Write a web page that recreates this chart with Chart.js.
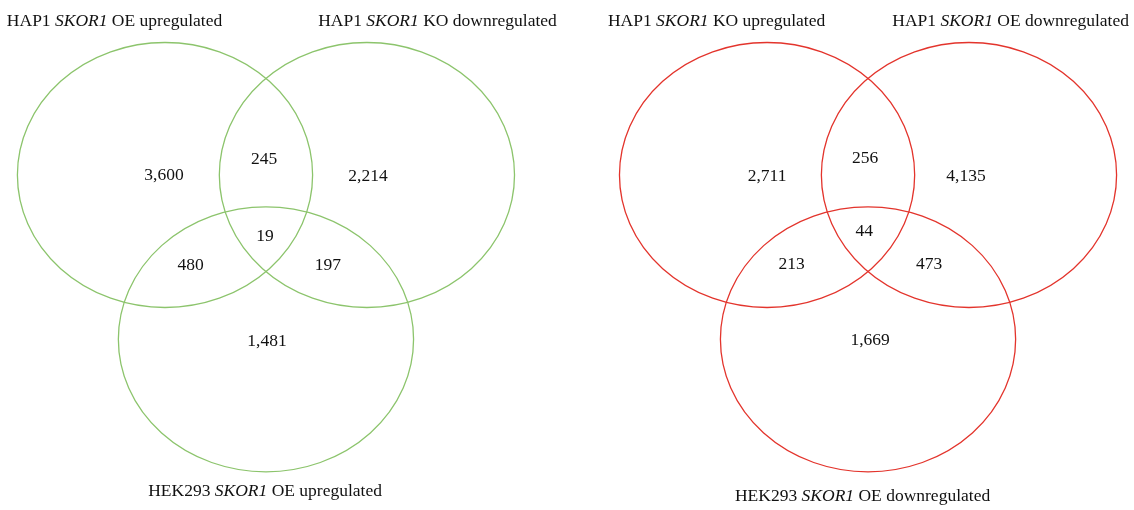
<!DOCTYPE html>
<html>
<head>
<meta charset="utf-8">
<script src="https://cdn.jsdelivr.net/npm/chart.js@4"></script>
<style>
  html, body { margin: 0; padding: 0; background: #fff; }
  #wrap { width: 1134px; height: 510px; position: relative; }
</style>
</head>
<body>
<div id="wrap"><canvas id="venn"></canvas></div>
<script>
const fontFamily = "'Liberation Serif', 'Times New Roman', serif";
const gene = 'SKOR1';

// set names: [before gene, after gene]
const leftSets = [['HAP1 ', ' OE upregulated'], ['HAP1 ', ' KO downregulated'], ['HEK293 ', ' OE upregulated']];
const rightSets = [['HAP1 ', ' KO upregulated'], ['HAP1 ', ' OE downregulated'], ['HEK293 ', ' OE downregulated']];

// region order: A only, A∩B, B only, A∩B∩C, A∩C, B∩C, C only
const leftCounts = [3600, 245, 2214, 19, 480, 197, 1481];
const rightCounts = [2711, 256, 4135, 44, 213, 473, 1669];

const colors = { left: '#8cc46c', right: '#e3342c' };

// layout in circle-radius units (A centre = 0,0)
const circleX = [0, 1.368, 0.684];
const circleY = [0, 0, -1.24];
const diagramOffset = [0, 4.079];

const leftRegionX = [-0.007, 0.671, 1.375, 0.678, 0.174, 1.104, 0.691];
const leftRegionY = [0, 0.121, -0.008, -0.466, -0.679, -0.679, -1.253];
const rightRegionX = [0, 0.664, 1.348, 0.659, 0.167, 1.098, 0.698];
const rightRegionY = [-0.01, 0.122, -0.01, -0.424, -0.675, -0.675, -1.249];

const leftTitleX = [-0.342, 1.846, 0.678];
const leftTitleY = [1.158, 1.158, -2.39];
const rightTitleX = [-0.342, 1.65, 0.647];
const rightTitleY = [1.158, 1.158, -2.428];

function regionPoints(xs, ys, off) {
  return xs.map((x, i) => ({ x: x + off, y: ys[i] }));
}

const diagrams = [
  { sets: leftSets, counts: leftCounts, color: colors.left, off: diagramOffset[0], tx: leftTitleX, ty: leftTitleY },
  { sets: rightSets, counts: rightCounts, color: colors.right, off: diagramOffset[1], tx: rightTitleX, ty: rightTitleY },
];

const vennPlugin = {
  id: 'venn',
  afterDatasetsDraw(chart) {
    const { ctx, scales: { x, y } } = chart;
    ctx.save();
    diagrams.forEach((d, di) => {
      // circles
      ctx.strokeStyle = d.color;
      ctx.lineWidth = 1.3;
      circleX.forEach((cx, i) => {
        const px = x.getPixelForValue(cx + d.off);
        const py = y.getPixelForValue(circleY[i]);
        const rx = x.getPixelForValue(cx + d.off + 1) - px;
        const ry = py - y.getPixelForValue(circleY[i] + 1);
        ctx.beginPath();
        ctx.ellipse(px, py, rx, ry, 0, 0, Math.PI * 2);
        ctx.stroke();
      });

      // counts
      ctx.fillStyle = '#111';
      ctx.font = '17.5px ' + fontFamily;
      ctx.textAlign = 'center';
      ctx.textBaseline = 'middle';
      chart.getDatasetMeta(di).data.forEach((pt, i) => {
        ctx.fillText(d.counts[i].toLocaleString('en-US'), pt.x, pt.y);
      });

      // set names with italic gene symbol
      ctx.textAlign = 'left';
      d.sets.forEach((parts, i) => {
        const reg = '17.5px ' + fontFamily;
        const ita = 'italic 17.5px ' + fontFamily;
        ctx.font = reg;
        const w1 = ctx.measureText(parts[0]).width;
        const w3 = ctx.measureText(parts[1]).width;
        ctx.font = ita;
        const w2 = ctx.measureText(gene).width;
        let sx = x.getPixelForValue(d.tx[i] + d.off) - (w1 + w2 + w3) / 2;
        const sy = y.getPixelForValue(d.ty[i]);
        ctx.font = reg;
        ctx.fillText(parts[0], sx, sy);
        sx += w1;
        ctx.font = ita;
        ctx.fillText(gene, sx, sy);
        sx += w2;
        ctx.font = reg;
        ctx.fillText(parts[1], sx, sy);
      });
    });
    ctx.restore();
  },
};

new Chart(document.getElementById('venn'), {
  type: 'scatter',
  data: {
    datasets: [
      { label: 'left', data: regionPoints(leftRegionX, leftRegionY, diagramOffset[0]), pointRadius: 0 },
      { label: 'right', data: regionPoints(rightRegionX, rightRegionY, diagramOffset[1]), pointRadius: 0 },
    ],
  },
  options: {
    responsive: true,
    maintainAspectRatio: false,
    animation: false,
    layout: { padding: 0 },
    plugins: {
      legend: { display: false },
      tooltip: { enabled: false },
    },
    scales: {
      x: { type: 'linear', min: -1.1179, max: 6.565, display: false },
      y: { type: 'linear', min: -2.5283, max: 1.3208, display: false },
    },
  },
  plugins: [vennPlugin],
});
</script>
</body>
</html>
